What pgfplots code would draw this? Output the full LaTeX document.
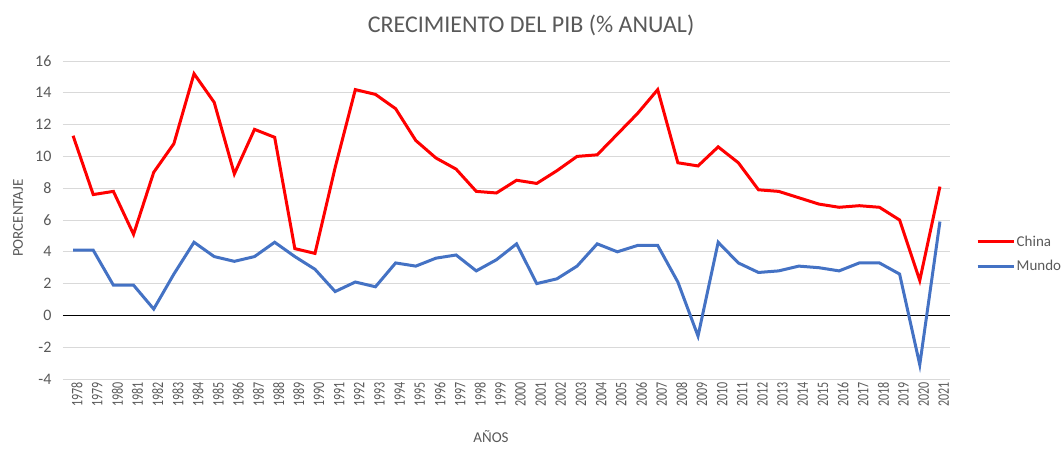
\documentclass[border=0pt]{standalone}
\usepackage{fontspec}
\setmainfont{Carlito}
\newfontfamily\condfont[FakeStretch=0.75]{Carlito}
\usepackage{pgfplots}
\usepackage{pgfplotstable}
\pgfplotsset{compat=1.18}
\definecolor{txt}{HTML}{595959}
\definecolor{grd}{HTML}{D9D9D9}
\definecolor{cred}{HTML}{FF0000}
\definecolor{cblue}{HTML}{4472C4}
\pgfplotstableread{
year china mundo
1978 11.3 4.1
1979 7.6 4.1
1980 7.8 1.9
1981 5.1 1.9
1982 9.0 0.4
1983 10.8 2.6
1984 15.2 4.6
1985 13.4 3.7
1986 8.9 3.4
1987 11.7 3.7
1988 11.2 4.6
1989 4.2 3.7
1990 3.9 2.9
1991 9.3 1.5
1992 14.2 2.1
1993 13.9 1.8
1994 13.0 3.3
1995 11.0 3.1
1996 9.9 3.6
1997 9.2 3.8
1998 7.8 2.8
1999 7.7 3.5
2000 8.5 4.5
2001 8.3 2.0
2002 9.1 2.3
2003 10.0 3.1
2004 10.1 4.5
2005 11.4 4.0
2006 12.7 4.4
2007 14.2 4.4
2008 9.6 2.1
2009 9.4 -1.3
2010 10.6 4.6
2011 9.6 3.3
2012 7.9 2.7
2013 7.8 2.8
2014 7.4 3.1
2015 7.0 3.0
2016 6.8 2.8
2017 6.9 3.3
2018 6.8 3.3
2019 6.0 2.6
2020 2.2 -3.1
2021 8.1 5.9
}\datatable
\begin{document}
\begin{tikzpicture}
\path[use as bounding box] (-63pt,-69pt) rectangle (1001pt,379pt);
\begin{axis}[
  at={(0pt,0pt)}, anchor=south west,
  scale only axis, width=887pt, height=318pt,
  xmin=1977.5, xmax=2021.5, ymin=-4, ymax=16,
  xtick={1978,...,2021}, ytick={-4,-2,...,16},
  /pgf/number format/.cd, 1000 sep={}, assume math mode=true,
  /pgfplots/.cd,
  x tick label style={rotate=90, anchor=east, yshift=-4pt, font=\condfont\fontsize{16}{16}\selectfont, text=txt},
  y tick label style={xshift=-8pt, font=\fontsize{16}{16}\selectfont, text=txt},
  ymajorgrids, grid style={grd, line width=1pt},
  axis line style={draw=none}, major tick length=0pt,
  extra y ticks={0}, extra y tick labels={},
  extra tick style={grid=major, major grid style={black, line width=1pt}},
  legend style={at={(rel axis cs:1.0293,0.393)}, anchor=west, draw=none, fill=none,
    inner sep=0pt, row sep=10pt, font=\fontsize{15}{15}\selectfont, text=txt,
    nodes={inner sep=1.5pt}},
  legend image code/.code={\draw[#1] (0pt,0pt) -- (36pt,0pt);},
  legend cell align=left,
]
\addplot[cred, line width=3pt] table[x=year, y=china] {\datatable};
\addlegendentry{China}
\addplot[cblue, line width=3pt] table[x=year, y=mundo] {\datatable};
\addlegendentry{Mundo}
\end{axis}
\node[text=txt, font=\fontsize{24}{24}\selectfont] at (468pt,354pt) {CRECIMIENTO DEL PIB (\% ANUAL)};
\node[text=txt, font=\fontsize{15}{15}\selectfont, rotate=90] at (-45pt,161pt) {PORCENTAJE};
\node[text=txt, font=\fontsize{15}{15}\selectfont] at (428pt,-58pt) {AÑOS};
\end{tikzpicture}
\end{document}
